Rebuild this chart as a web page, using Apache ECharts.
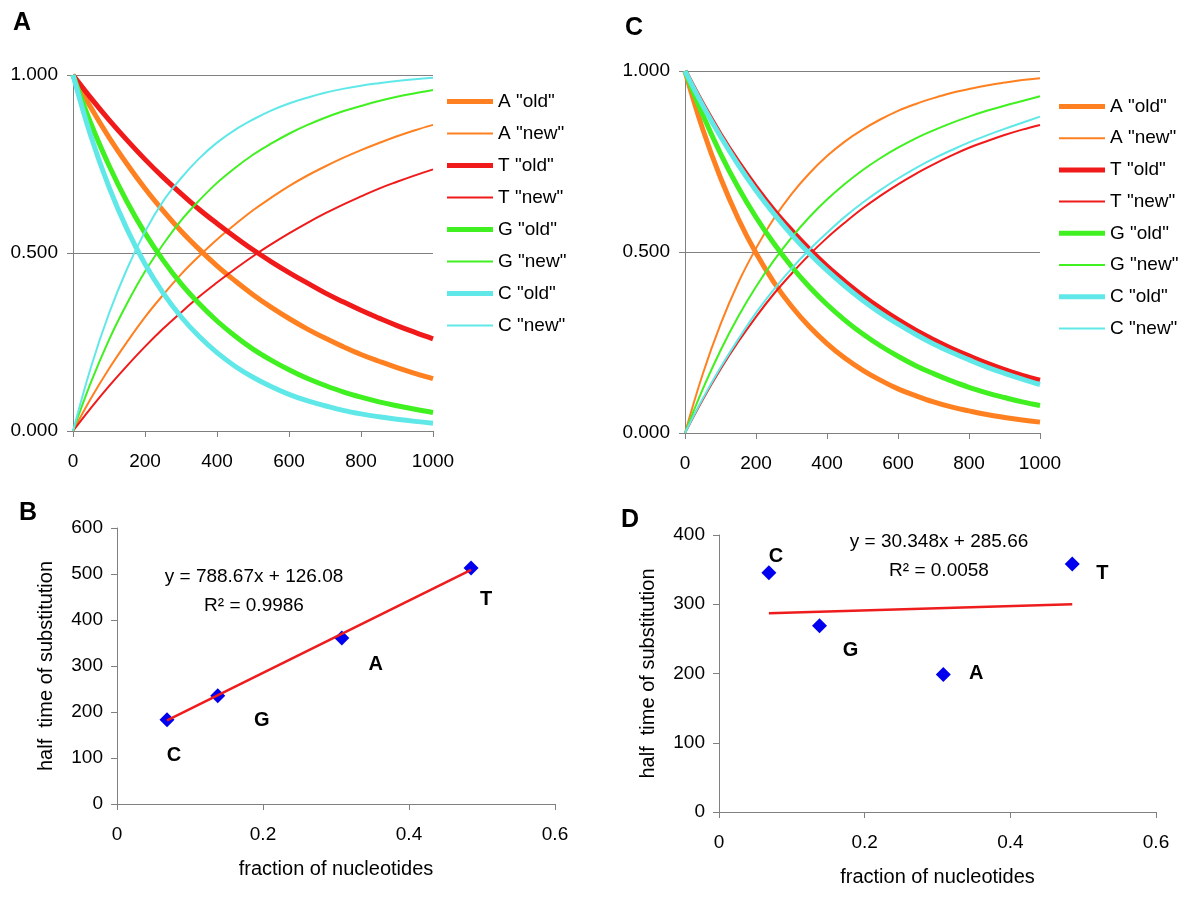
<!DOCTYPE html>
<html>
<head>
<meta charset="utf-8">
<script src="https://cdn.jsdelivr.net/npm/echarts@6/dist/echarts.min.js"></script>
<style>
  html, body { margin: 0; padding: 0; background: #fff; }
  #chart { width: 1200px; height: 918px; }
</style>
</head>
<body>
<div id="chart"></div>
<script>
var FONT = '"Liberation Sans", Arial, sans-serif';

// time points (x of panels A and C)
var times = [0, 50, 100, 150, 200, 250, 300, 350, 400, 450, 500,
    550, 600, 650, 700, 750, 800, 850, 900, 950, 1000];

var curveNames = ['A "old"', 'A "new"', 'T "old"', 'T "new"', 'G "old"', 'G "new"', 'C "old"', 'C "new"'];

// panel A curves
var panelA_Aold = [1, 0.908, 0.825, 0.750, 0.681, 0.619, 0.562, 0.511, 0.464, 0.422, 0.383, 0.348, 0.316, 0.287, 0.261, 0.237, 0.215, 0.196, 0.178, 0.162, 0.147];
var panelA_Anew = [0, 0.092, 0.175, 0.250, 0.320, 0.382, 0.440, 0.491, 0.538, 0.580, 0.620, 0.655, 0.688, 0.717, 0.743, 0.767, 0.789, 0.809, 0.828, 0.845, 0.860];
var panelA_Told = [1, 0.935, 0.874, 0.817, 0.763, 0.713, 0.667, 0.623, 0.583, 0.545, 0.509, 0.476, 0.445, 0.416, 0.388, 0.363, 0.339, 0.317, 0.296, 0.277, 0.259];
var panelA_Tnew = [0, 0.065, 0.126, 0.183, 0.237, 0.287, 0.333, 0.377, 0.417, 0.455, 0.491, 0.524, 0.555, 0.584, 0.611, 0.636, 0.659, 0.681, 0.700, 0.718, 0.735];
var panelA_Gold = [1, 0.863, 0.746, 0.644, 0.556, 0.480, 0.414, 0.358, 0.309, 0.267, 0.230, 0.199, 0.172, 0.148, 0.128, 0.110, 0.095, 0.082, 0.071, 0.061, 0.052];
var panelA_Gnew = [0, 0.137, 0.256, 0.358, 0.448, 0.524, 0.591, 0.647, 0.697, 0.739, 0.776, 0.807, 0.835, 0.859, 0.880, 0.898, 0.913, 0.927, 0.939, 0.949, 0.958];
var panelA_Cold = [1, 0.827, 0.685, 0.567, 0.469, 0.388, 0.321, 0.266, 0.220, 0.182, 0.151, 0.125, 0.103, 0.085, 0.071, 0.058, 0.048, 0.040, 0.033, 0.027, 0.022];
var panelA_Cnew = [0, 0.180, 0.330, 0.455, 0.560, 0.645, 0.710, 0.765, 0.810, 0.846, 0.875, 0.900, 0.920, 0.936, 0.950, 0.961, 0.970, 0.977, 0.983, 0.988, 0.992];

// panel C curves
var panelC_Aold = [1, 0.839, 0.705, 0.592, 0.497, 0.417, 0.350, 0.294, 0.247, 0.207, 0.174, 0.146, 0.122, 0.103, 0.086, 0.072, 0.061, 0.051, 0.043, 0.036, 0.030];
var panelC_Anew = [0, 0.163, 0.300, 0.415, 0.510, 0.592, 0.660, 0.717, 0.765, 0.805, 0.838, 0.866, 0.890, 0.909, 0.925, 0.939, 0.950, 0.960, 0.968, 0.975, 0.980];
var panelC_Told = [1, 0.908, 0.824, 0.748, 0.679, 0.616, 0.560, 0.508, 0.461, 0.419, 0.380, 0.345, 0.313, 0.284, 0.258, 0.234, 0.213, 0.193, 0.175, 0.159, 0.146];
var panelC_Tnew = [0, 0.092, 0.176, 0.252, 0.321, 0.384, 0.440, 0.492, 0.539, 0.581, 0.620, 0.655, 0.687, 0.716, 0.742, 0.766, 0.788, 0.806, 0.823, 0.838, 0.851];
var panelC_Gold = [1, 0.879, 0.772, 0.678, 0.596, 0.524, 0.460, 0.404, 0.355, 0.312, 0.274, 0.241, 0.212, 0.186, 0.164, 0.144, 0.126, 0.111, 0.098, 0.086, 0.076];
var panelC_Gnew = [0, 0.121, 0.228, 0.322, 0.404, 0.476, 0.540, 0.596, 0.645, 0.688, 0.726, 0.759, 0.788, 0.814, 0.836, 0.856, 0.874, 0.890, 0.904, 0.917, 0.930];
var panelC_Cold = [1, 0.905, 0.819, 0.741, 0.670, 0.606, 0.548, 0.496, 0.449, 0.406, 0.367, 0.332, 0.301, 0.272, 0.246, 0.223, 0.202, 0.182, 0.165, 0.149, 0.134];
var panelC_Cnew = [0, 0.095, 0.181, 0.259, 0.332, 0.396, 0.454, 0.506, 0.553, 0.597, 0.636, 0.671, 0.703, 0.732, 0.758, 0.781, 0.803, 0.822, 0.840, 0.857, 0.874];

// panels B and D: half time vs fraction
var bases = ['C', 'G', 'A', 'T'];
var fractions = [0.0685, 0.138, 0.308, 0.485];
var halfTimeB = [183, 235.5, 361, 513];
var halfTimeD = [345.5, 269, 198.5, 358];
var trendB = [[0.0685, 182], [0.485, 509]];
var trendD = [[0.0685, 287], [0.485, 300]];
var eqB = ['y = 788.67x + 126.08', 'R² = 0.9986'];
var eqD = ['y = 30.348x + 285.66', 'R² = 0.0058'];

// styling
var lineColors = ['#ff8020', '#ff8020', '#f01a1a', '#f01a1a', '#40f020', '#40f020', '#60e8e8', '#60e8e8'];
var lineWidths = [5, 2, 5, 2, 5, 2, 5, 2];
var labelOffsetB = [[7, 36], [44, 25], [34, 27], [15, 31]];
var labelOffsetD = [[7, -16], [31, 25], [33, -1], [30, 9]];

var panelA = [panelA_Aold, panelA_Anew, panelA_Told, panelA_Tnew, panelA_Gold, panelA_Gnew, panelA_Cold, panelA_Cnew];
var panelC = [panelC_Aold, panelC_Anew, panelC_Told, panelC_Tnew, panelC_Gold, panelC_Gnew, panelC_Cold, panelC_Cnew];

var chart = echarts.init(document.getElementById('chart'));

var axisGray = {lineStyle: {color: '#808080', width: 1}};

function curveXAxis(gridIndex) {
    return {
        type: 'value', gridIndex: gridIndex, min: 0, max: 1000, interval: 200,
        axisLine: axisGray, axisTick: {show: true, length: 6, lineStyle: {color: '#808080'}},
        axisLabel: {fontSize: 19, color: '#000', fontFamily: FONT, margin: 21,
            formatter: function (v) { return String(v); }},
        splitLine: {show: false}
    };
}
function curveYAxis(gridIndex) {
    return {
        type: 'value', gridIndex: gridIndex, min: 0, max: 1, interval: 0.5,
        axisLine: {show: true, lineStyle: {color: '#808080'}},
        axisTick: {show: true, length: 6, lineStyle: {color: '#808080'}},
        axisLabel: {fontSize: 19, color: '#000', fontFamily: FONT, margin: 15,
            formatter: function (v) { return v.toFixed(3); }},
        splitLine: {show: true, lineStyle: {color: '#808080', width: 1}}
    };
}
function scatXAxis(gridIndex) {
    return {
        type: 'value', gridIndex: gridIndex, min: 0, max: 0.6, interval: 0.2,
        name: 'fraction of nucleotides', nameLocation: 'middle', nameGap: 55,
        nameTextStyle: {fontSize: 20, color: '#000', fontFamily: FONT},
        axisLine: axisGray, axisTick: {show: true, length: 6, lineStyle: {color: '#808080'}},
        axisLabel: {fontSize: 19, color: '#000', fontFamily: FONT, margin: 21},
        splitLine: {show: false}
    };
}
function scatYAxis(gridIndex, max) {
    return {
        type: 'value', gridIndex: gridIndex, min: 0, max: max, interval: 100,
        name: 'half  time of substitution', nameLocation: 'middle', nameGap: 61,
        nameTextStyle: {fontSize: 20, color: '#000', fontFamily: FONT},
        axisLine: {show: true, lineStyle: {color: '#808080'}},
        axisTick: {show: true, length: 6, lineStyle: {color: '#808080'}},
        axisLabel: {fontSize: 19, color: '#000', fontFamily: FONT, margin: 14},
        splitLine: {show: false}
    };
}

var series = [];
function addCurves(list, axisIndex) {
    list.forEach(function (vals, i) {
        series.push({
            name: curveNames[i],
            type: 'line',
            xAxisIndex: axisIndex, yAxisIndex: axisIndex,
            smooth: 0.4,
            symbol: 'none',
            data: times.map(function (t, j) { return [t, vals[j]]; }),
            lineStyle: {color: lineColors[i], width: lineWidths[i]},
            itemStyle: {color: lineColors[i]},
            z: 3
        });
    });
}
addCurves(panelA, 0);
addCurves(panelC, 1);

function addScatter(halfTimes, trend, offsets, axisIndex) {
    series.push({
        type: 'scatter',
        xAxisIndex: axisIndex, yAxisIndex: axisIndex,
        symbol: 'diamond', symbolSize: 15,
        itemStyle: {color: '#0000ee', opacity: 1},
        label: {show: true, position: 'inside', formatter: '{b}', fontSize: 20,
            fontWeight: 'bold', color: '#000', textBorderWidth: 0, fontFamily: FONT},
        data: bases.map(function (b, i) {
            return {name: b, value: [fractions[i], halfTimes[i]], label: {offset: offsets[i]}};
        }),
        z: 3
    });
    series.push({
        type: 'line',
        xAxisIndex: axisIndex, yAxisIndex: axisIndex,
        symbol: 'none',
        data: trend,
        lineStyle: {color: '#ee1c1c', width: 2.5},
        z: 4
    });
}
addScatter(halfTimeB, trendB, labelOffsetB, 2);
addScatter(halfTimeD, trendD, labelOffsetD, 3);

function legendsFor(left, top0, step) {
    return curveNames.map(function (n, i) {
        return {
            data: [n], left: left, top: top0 + step * i, padding: 0,
            icon: 'rect', itemWidth: 46, itemHeight: lineWidths[i], itemGap: 0,
            selectedMode: false,
            textStyle: {fontSize: 19, color: '#000', fontFamily: FONT}
        };
    });
}

function textEl(txt, x, y, size, bold) {
    return {
        type: 'text', x: x, y: y,
        style: {text: txt, fill: '#000', fontSize: size, fontFamily: FONT,
            fontWeight: bold ? 'bold' : 'normal', textAlign: 'center', textVerticalAlign: 'middle'}
    };
}

var option = {
    animation: false,
    backgroundColor: '#fff',
    grid: [
        {left: 73, top: 75, width: 360, height: 356},
        {left: 685, top: 71, width: 355, height: 362},
        {left: 117, top: 528, width: 438, height: 276},
        {left: 719, top: 535, width: 437, height: 277}
    ],
    xAxis: [curveXAxis(0), curveXAxis(1), scatXAxis(2), scatXAxis(3)],
    yAxis: [curveYAxis(0), curveYAxis(1), scatYAxis(2, 600), scatYAxis(3, 400)],
    legend: legendsFor(447, 92, 32).concat(legendsFor(1059, 97, 31.7)),
    graphic: [
        textEl('A', 22, 23, 25, true),
        textEl('C', 634, 28, 25, true),
        textEl('B', 28, 513, 25, true),
        textEl('D', 630, 520, 25, true),
        textEl(eqB[0], 254, 577, 19, false),
        textEl(eqB[1], 254, 606, 19, false),
        textEl(eqD[0], 939, 542, 19, false),
        textEl(eqD[1], 939, 571, 19, false)
    ],
    series: series
};

chart.setOption(option);
</script>
</body>
</html>
